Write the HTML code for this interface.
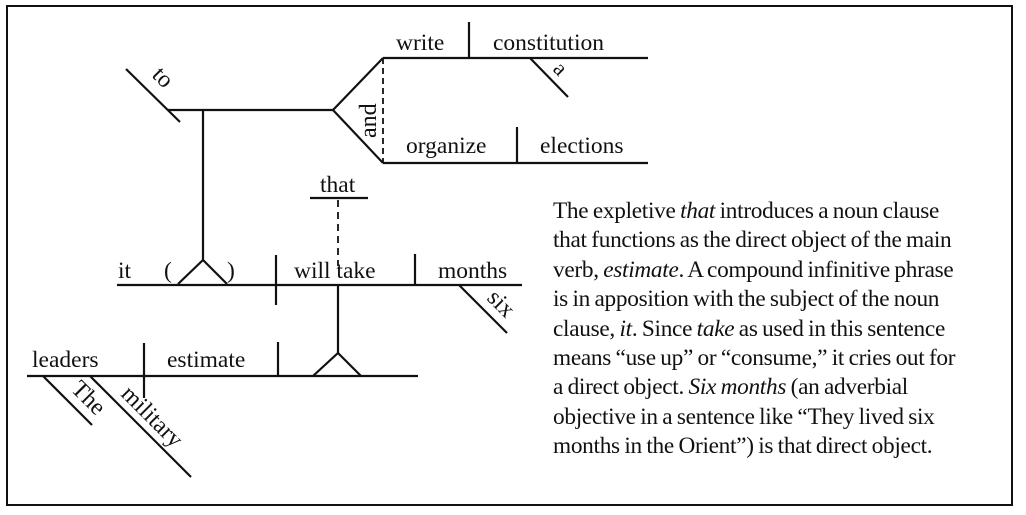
<!DOCTYPE html>
<html><head><meta charset="utf-8"><style>
html,body{margin:0;padding:0;background:#fff;}
body{width:1026px;height:515px;position:relative;overflow:hidden;font-family:"Liberation Serif",serif;}
svg{position:absolute;left:0;top:0;}
svg text{font-family:"Liberation Serif",serif;font-size:23.5px;fill:#111;}
.p{position:absolute;left:553px;top:197px;font-size:23.3px;line-height:29.4px;color:#111;letter-spacing:-0.3px;word-spacing:-1px;white-space:nowrap;}
</style></head><body>
<svg width="1026" height="515" viewBox="0 0 1026 515">
<g stroke="#111" stroke-width="2.2" fill="none">
<rect x="7" y="6" width="1005" height="499" stroke-width="2"/>
<line x1="126" y1="69" x2="180" y2="122"/>
<line x1="168" y1="110" x2="333" y2="110"/>
<line x1="203" y1="110" x2="203" y2="260"/>
<polyline points="383,58 333,110 383,163"/>
<line x1="383" y1="58" x2="383" y2="163" stroke-dasharray="6,4" stroke-width="1.8"/>
<line x1="383" y1="58" x2="648" y2="58"/>
<line x1="469" y1="22" x2="469" y2="58"/>
<line x1="530" y1="58" x2="568" y2="97"/>
<line x1="383" y1="163" x2="648" y2="163"/>
<line x1="517" y1="127" x2="517" y2="163"/>
<line x1="310" y1="198" x2="368" y2="198"/>
<line x1="338" y1="200" x2="338" y2="266" stroke-dasharray="7,5" stroke-width="1.8"/>
<line x1="117" y1="285" x2="522" y2="285"/>
<polyline points="178,284 203,260 227,284"/>
<line x1="276" y1="255" x2="276" y2="305"/>
<line x1="415" y1="254" x2="415" y2="285"/>
<line x1="459" y1="285" x2="507" y2="333"/>
<line x1="338" y1="285" x2="338" y2="353"/>
<polyline points="313,376 338,353 361,376"/>
<line x1="27" y1="376" x2="418" y2="376"/>
<line x1="144" y1="343" x2="144" y2="398"/>
<line x1="278" y1="342" x2="278" y2="376"/>
<line x1="43" y1="376" x2="92" y2="425"/>
<line x1="90" y1="376" x2="191" y2="477"/>
</g>
<text x="396" y="50">write</text>
<text x="493" y="50">constitution</text>
<text x="406" y="153">organize</text>
<text x="540" y="153">elections</text>
<text x="320" y="192">that</text>
<text x="118" y="278">it</text>
<text x="164" y="278">(</text>
<text x="227" y="278">)</text>
<text x="294" y="278">will take</text>
<text x="438" y="278">months</text>
<text x="32" y="367">leaders</text>
<text x="167" y="367">estimate</text>
<text transform="translate(151,76) rotate(45)" style="font-size:24px">to</text>
<text transform="translate(376,138) rotate(-90)" style="font-size:24px">and</text>
<text transform="translate(552,70) rotate(45)" style="font-size:22px">a</text>
<text transform="translate(486,299) rotate(45)" style="font-size:24px">six</text>
<text transform="translate(70,390) rotate(45)" style="font-size:24px">The</text>
<text transform="translate(120,395) rotate(45)" style="font-size:24px">military</text>
</svg>
<div class="p">The expletive <i>that</i> introduces a noun clause<br>that functions as the direct object of the main<br>verb, <i>estimate</i>. A compound infinitive phrase<br>is in apposition with the subject of the noun<br>clause, <i>it</i>. Since <i>take</i> as used in this sentence<br>means “use up” or “consume,” it cries out for<br>a direct object. <i>Six months</i> (an adverbial<br>objective in a sentence like “They lived six<br>months in the Orient”) is that direct object.</div>
</body></html>
